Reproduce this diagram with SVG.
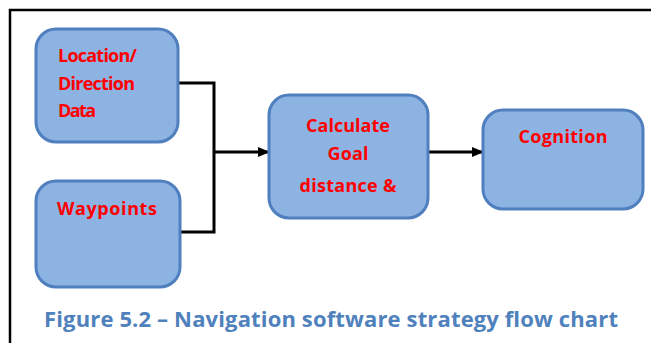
<svg xmlns="http://www.w3.org/2000/svg" width="651" height="343" viewBox="0 0 651 343">
<style>
.box{fill:#8DB3E2;stroke:#4F7FBF;stroke-width:3}
.lbl{font-family:"Open Sans","Liberation Sans",Arial,sans-serif;font-weight:bold;font-size:18px;fill:#FF0000}
.cap{font-family:"Open Sans","Liberation Sans",Arial,sans-serif;font-weight:bold;font-size:22px;fill:#4F81BD}
.wire{fill:none;stroke:#000;stroke-width:3}
</style>
<defs>
<marker id="arr" markerWidth="12" markerHeight="12" refX="11" refY="6" orient="auto" markerUnits="userSpaceOnUse">
<path d="M0,1 L12,6 L0,11 Z" fill="#000"/>
</marker>
</defs>
<rect width="651" height="343" fill="#fff"/>
<g id="frame">
<path d="M10,343 V10 H651" fill="none" stroke="#000" stroke-width="2.5"/>
</g>
<g id="connectors">
<path class="wire" d="M178,83 H214 V232 H180"/>
<path class="wire" d="M214,152 H269" marker-end="url(#arr)"/>
<path class="wire" d="M428,152 H483" marker-end="url(#arr)"/>
</g>
<g id="node-location">
<rect class="box" x="36" y="29" width="142" height="113" rx="20"/>
<text class="lbl" x="58" y="62" textLength="79">Location/</text>
<text class="lbl" x="58" y="90" textLength="77">Direction</text>
<text class="lbl" x="58" y="117" textLength="38">Data</text>
</g>
<g id="node-waypoints">
<rect class="box" x="36" y="181" width="144" height="106" rx="20"/>
<text class="lbl" x="57" y="215" textLength="100">Waypoints</text>
</g>
<g id="node-calculate">
<rect class="box" x="269" y="95" width="159" height="123" rx="20"/>
<text class="lbl" x="348" y="132" text-anchor="middle" textLength="84">Calculate</text>
<text class="lbl" x="348" y="160" text-anchor="middle" textLength="41">Goal</text>
<text class="lbl" x="348" y="192" text-anchor="middle" textLength="97">distance &amp;</text>
</g>
<g id="node-cognition">
<rect class="box" x="483" y="110" width="160" height="99" rx="20"/>
<text class="lbl" x="563" y="143" text-anchor="middle" textLength="89">Cognition</text>
</g>
<g id="caption">
<text class="cap" x="44" y="327" textLength="574">Figure 5.2 – Navigation software strategy flow chart</text>
</g>
</svg>
